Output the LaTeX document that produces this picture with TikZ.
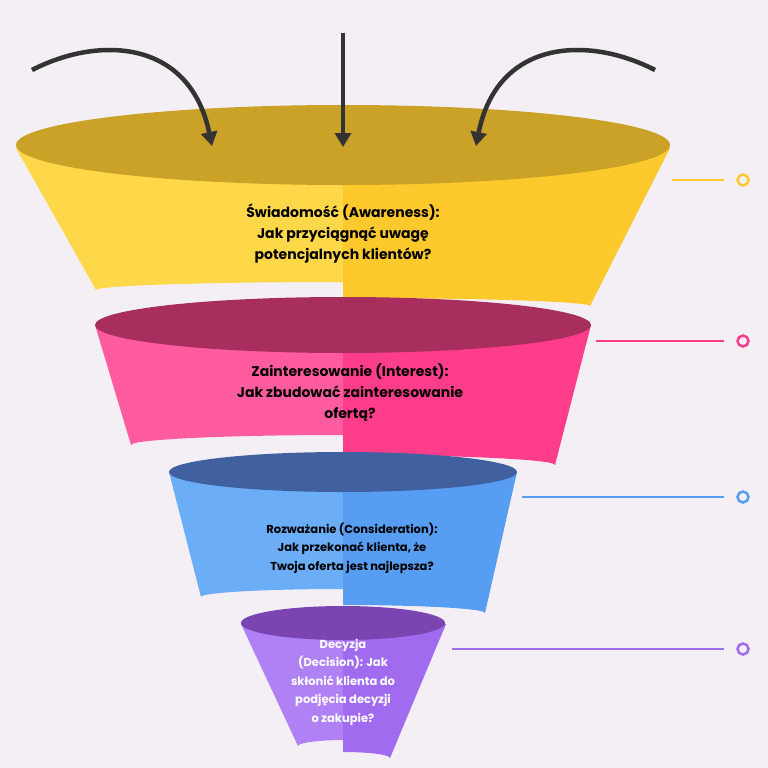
\documentclass[tikz,border=0pt]{standalone}
\usepackage{fontspec}
\setmainfont{Poppins}
\usetikzlibrary{arrows.meta}
\definecolor{bg}{HTML}{F4EFF5}
\definecolor{yA}{HTML}{FFD84A}\definecolor{yB}{HTML}{FDC92C}\definecolor{yT}{HTML}{C9A227}
\definecolor{pA}{HTML}{FF5CA0}\definecolor{pB}{HTML}{FF3D8B}\definecolor{pT}{HTML}{A82E5E}
\definecolor{bA}{HTML}{6BAEF7}\definecolor{bB}{HTML}{579DF2}\definecolor{bT}{HTML}{40609F}
\definecolor{vA}{HTML}{B080F5}\definecolor{vB}{HTML}{A06BEF}\definecolor{vT}{HTML}{7A45B0}
\definecolor{ink}{HTML}{333333}
\begin{document}
\begin{tikzpicture}[x=1pt,y=-1pt,
 lbl/.style={align=center,font=\bfseries,text=black},
 arr/.style={line width=4.5pt,ink,-{Stealth[length=14pt,width=16pt,inset=0pt]}},
 tick/.style={line width=2pt},
 dot/.style={circle,draw,line width=2.5pt,minimum size=11pt,inner sep=0pt}]
\fill[bg] (0,0) rectangle (768,768);
\useasboundingbox (0,0) rectangle (768,768);
% yellow
\fill[yA] (16,148) -- (96,290) arc[start angle=180,end angle=360,x radius=247,y radius=8] -- (670,148) -- cycle;
\fill[yB] (343,148) -- (343,298) arc[start angle=270,end angle=360,x radius=247,y radius=8] -- (670,148) -- cycle;
\fill[yT] (343,145) ellipse[x radius=327,y radius=40];
% pink
\fill[pA] (95,325) -- (131,445) arc[start angle=180,end angle=360,x radius=212,y radius=10] -- (591,325) -- cycle;
\fill[pB] (343,325) -- (343,455) arc[start angle=270,end angle=360,x radius=212,y radius=10] -- (591,325) -- cycle;
\fill[pT] (343,325) ellipse[x radius=248,y radius=28];
% blue
\fill[bA] (169,472) -- (201,597) arc[start angle=180,end angle=360,x radius=142,y radius=8] -- (517,472) -- cycle;
\fill[bB] (343,472) -- (343,605) arc[start angle=270,end angle=360,x radius=142,y radius=8] -- (517,472) -- cycle;
\fill[bT] (343,472) ellipse[x radius=174,y radius=20];
% violet
\fill[vA] (241,624) -- (298,746) arc[start angle=180,end angle=360,x radius=47,y radius=6] -- (446,624) -- cycle;
\fill[vB] (343,624) -- (343,752) arc[start angle=270,end angle=360,x radius=47,y radius=6] -- (446,624) -- cycle;
\fill[vT] (343,623) ellipse[x radius=102,y radius=17];
% texts
\node[lbl,font=\bfseries\fontsize{14}{21}\selectfont] (t1) at (343,233) {Świadomość (Awareness):\\Jak przyciągnąć uwagę\\potencjalnych klientów?};
\node[lbl,font=\bfseries\fontsize{14}{21}\selectfont] (t2) at (350,393) {Zainteresowanie (Interest):\\Jak zbudować zainteresowanie\\ofertą?};
\node[lbl,font=\bfseries\fontsize{11.5}{18.5}\selectfont] (t3) at (352,548) {Rozważanie (Consideration):\\Jak przekonać klienta, że\\Twoja oferta jest najlepsza?};
\node[lbl,text=white,font=\bfseries\fontsize{11.5}{18.5}\selectfont] (t4) at (343,682) {Decyzja\\(Decision): Jak\\skłonić klienta do\\podjęcia decyzji\\o zakupie?};
% markers
\node[dot,draw=yB] (d1) at (743,180) {};
\node[dot,draw=pB] (d2) at (743,341) {};
\node[dot,draw=bB] (d3) at (743,497) {};
\node[dot,draw=vB] (d4) at (743,649) {};
\coordinate (s1) at (672,180);\coordinate (s2) at (596,341);
\coordinate (s3) at (522,497);\coordinate (s4) at (452,649);
\draw[tick,yB] (s1) -- (724,180);
\draw[tick,pB] (s2) -- (724,341);
\draw[tick,bB] (s3) -- (724,497);
\draw[tick,vB] (s4) -- (724,649);
% arrows
\coordinate (a0) at (343,33);\coordinate (a1) at (343,147);
\coordinate (l0) at (32,70);\coordinate (l1) at (212,146);
\coordinate (r0) at (655,70);\coordinate (r1) at (476,146);
\draw[arr] (a0) -- (a1);
\draw[arr] (l0) .. controls (100,35) and (190,40) .. (l1);
\draw[arr] (r0) .. controls (587,35) and (497,40) .. (r1);
\end{tikzpicture}
\end{document}
